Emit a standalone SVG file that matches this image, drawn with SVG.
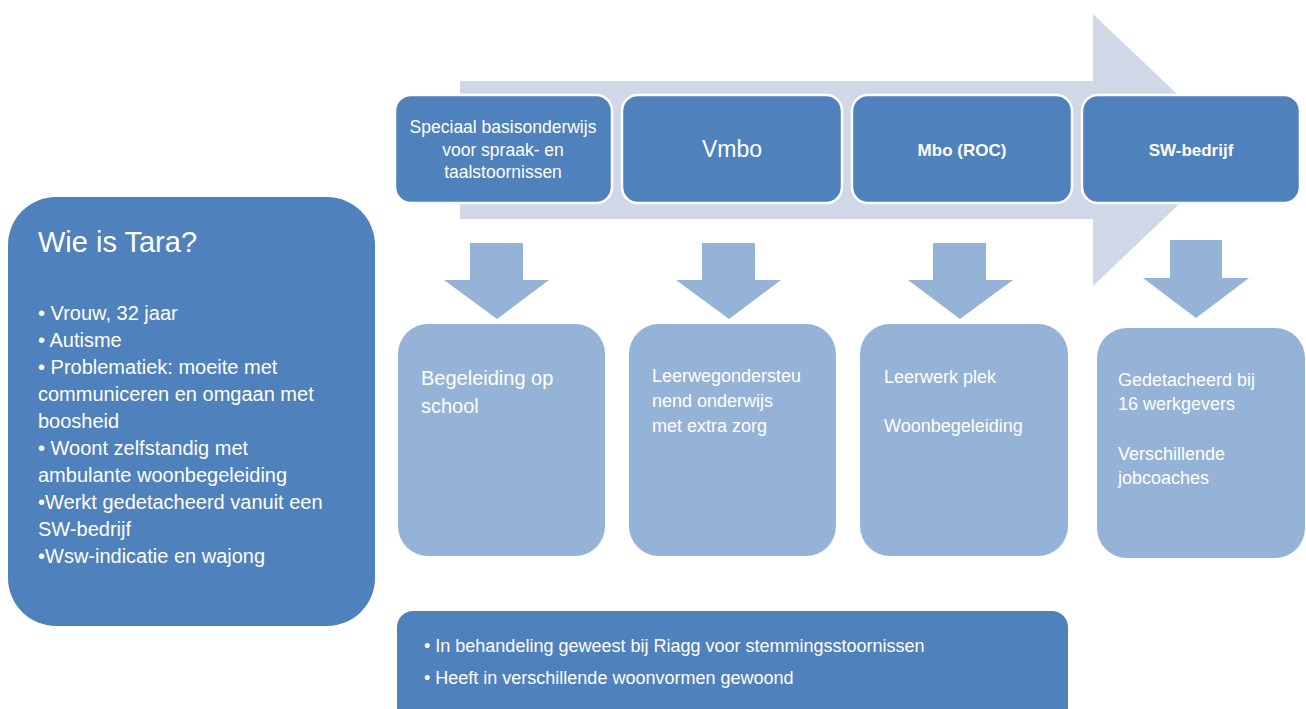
<svg xmlns="http://www.w3.org/2000/svg" width="1306" height="709" viewBox="0 0 1306 709">
<style>
.dark{fill:#4f81bd}
.top{fill:#4f81bd;stroke:#ffffff;stroke-width:2.5}
.light{fill:#95b3d7}
.arr{fill:#95b3d7}
.big{fill:#d0d8e8}
text{font-family:"Liberation Sans",Arial,sans-serif;fill:#ffffff}
.c{text-anchor:middle}
</style>
<rect width="1306" height="709" fill="#ffffff"/>
<g id="flow-arrow">
<polygon class="big" points="460,81 1093,81 1093,14 1236,150 1093,286 1093,219 460,219"/>
</g>
<g id="connectors">
<polygon class="arr" points="470,243 523,243 523,280 549,280 497,319 444,280 470,280"/>
<polygon class="arr" points="702,243 755,243 755,280 781,280 729,319 676,280 702,280"/>
<polygon class="arr" points="933,243 986,243 986,280 1013,280 960,319 908,280 933,280"/>
<polygon class="arr" points="1170,240 1222,240 1222,278 1249,278 1196,318 1143,278 1170,278"/>
</g>
<g id="tara">
<rect class="dark" x="8" y="197" width="367" height="429" rx="48"/>
<text x="38" y="252" font-size="29">Wie is Tara?</text>
<g font-size="20">
<text x="38" y="320">• Vrouw, 32 jaar</text>
<text x="38" y="347">• Autisme</text>
<text x="38" y="374">• Problematiek:  moeite met</text>
<text x="38" y="401">communiceren en omgaan met</text>
<text x="38" y="428">boosheid</text>
<text x="38" y="455">• Woont zelfstandig met</text>
<text x="38" y="482">ambulante woonbegeleiding</text>
<text x="38" y="509">•Werkt gedetacheerd vanuit een</text>
<text x="38" y="536">SW-bedrijf</text>
<text x="38" y="563">•Wsw-indicatie en wajong</text>
</g>
</g>
<g id="speciaal">
<rect class="top" x="395" y="95" width="217" height="108" rx="16"/>
<text class="c" x="503" y="133" font-size="17.5">Speciaal basisonderwijs</text>
<text class="c" x="503" y="156" font-size="17.5">voor spraak-  en</text>
<text class="c" x="503" y="178" font-size="17.5">taalstoornissen</text>
</g>
<g id="vmbo">
<rect class="top" x="622" y="95" width="220" height="108" rx="16"/>
<text class="c" x="732" y="157" font-size="23">Vmbo</text>
</g>
<g id="mbo">
<rect class="top" x="852" y="95" width="220" height="108" rx="16"/>
<text class="c" x="962" y="156" font-size="17" font-weight="bold">Mbo (ROC)</text>
</g>
<g id="sw">
<rect class="top" x="1082" y="95" width="218" height="108" rx="16"/>
<text class="c" x="1191" y="156" font-size="17" font-weight="bold">SW-bedrijf</text>
</g>
<g id="begeleiding">
<rect class="light" x="398" y="324" width="207" height="232" rx="30"/>
<text x="421" y="385" font-size="20">Begeleiding op</text>
<text x="421" y="413" font-size="20">school</text>
</g>
<g id="leerweg">
<rect class="light" x="629" y="324" width="207" height="232" rx="30"/>
<text x="652" y="382" font-size="18">Leerwegondersteu</text>
<text x="652" y="407" font-size="18">nend onderwijs</text>
<text x="652" y="432" font-size="18">met extra zorg</text>
</g>
<g id="leerwerk">
<rect class="light" x="860" y="324" width="208" height="232" rx="30"/>
<text x="884" y="383" font-size="18">Leerwerk plek</text>
<text x="884" y="432" font-size="18">Woonbegeleiding</text>
</g>
<g id="gedetacheerd">
<rect class="light" x="1097" y="328" width="208" height="230" rx="30"/>
<text x="1118" y="386" font-size="18">Gedetacheerd bij</text>
<text x="1118" y="410" font-size="18">16 werkgevers</text>
<text x="1118" y="460" font-size="18">Verschillende</text>
<text x="1118" y="484" font-size="18">jobcoaches</text>
</g>
<g id="behandeling">
<rect class="dark" x="397" y="611" width="671" height="120" rx="16"/>
<text x="424" y="652" font-size="18">• In behandeling  geweest bij Riagg voor stemmingsstoornissen</text>
<text x="424" y="684" font-size="18">• Heeft in verschillende  woonvormen gewoond</text>
</g>
</svg>
